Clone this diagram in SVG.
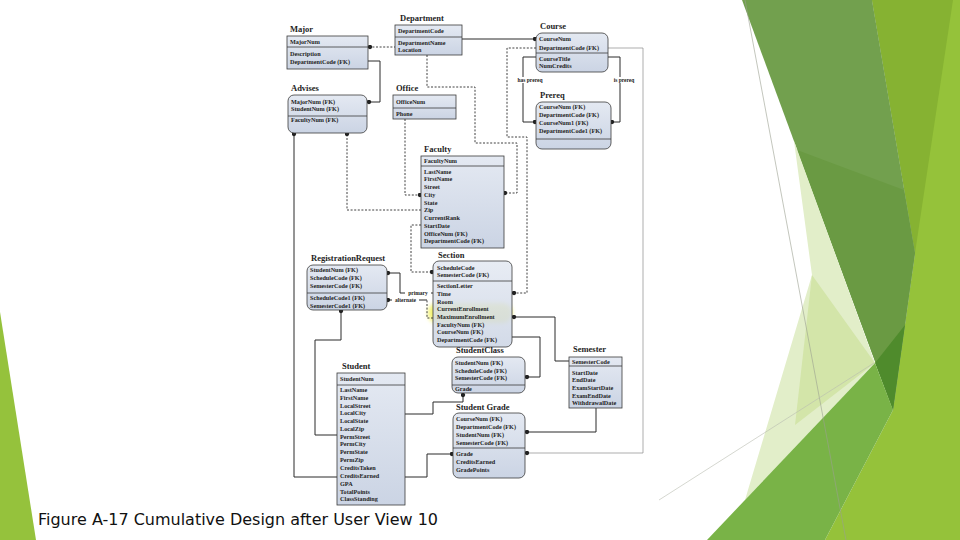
<svg xmlns="http://www.w3.org/2000/svg" width="960" height="540" viewBox="0 0 960 540">
<defs>
<linearGradient id="bg" x1="0" y1="0" x2="0" y2="1"><stop offset="0" stop-color="#e4e9f2"/><stop offset="1" stop-color="#cbd4e4"/></linearGradient>
<filter id="blur" x="-20%" y="-50%" width="140%" height="200%"><feGaussianBlur stdDeviation="2"/></filter>
<marker id="dot" viewBox="0 0 6 6" refX="3" refY="3" markerWidth="5" markerHeight="5" markerUnits="userSpaceOnUse"><circle cx="3" cy="3" r="2.6" fill="#222"/></marker>
<style>
.box{fill:url(#bg);stroke:#3a3a3a;stroke-width:0.8}
.dv{stroke:#3a3a3a;stroke-width:0.8}
.t{font-family:"Liberation Serif",serif;font-size:6.2px;font-weight:bold;fill:#1e1e1e}
.h{font-family:"Liberation Serif",serif;font-size:8.5px;font-weight:bold;fill:#1e1e1e}
.c{fill:none;stroke:#2a2a2a;stroke-width:1}
.d{fill:none;stroke:#2a2a2a;stroke-width:0.9;stroke-dasharray:2 1.6}
.g{fill:none;stroke:#8a8a8a;stroke-width:0.7}
.lbl{font-family:"Liberation Serif",serif;font-size:5.5px;font-weight:bold;fill:#222}
.lb{fill:#ffffff}
</style>
</defs>
<rect width="960" height="540" fill="#ffffff"/>
<g id="decoration">
<polygon points="872,0 960,0 960,540 825,540 893,410 915,253" fill="#95c23a"/>
<polygon points="872,0 953,0 915,253" fill="#86b232"/>
<polygon points="742,0 872,0 915,253 893,410" fill="#72a04e"/>
<polygon points="797,150 904,190 915,253 893,410" fill="#6a9a43"/>
<polygon points="875,363 905,325 893,410" fill="#4f8b2c"/>
<polygon points="794,141 875,363 745,500 812,275" fill="#e2eec9"/>
<polygon points="812,275 875,363 795,425" fill="#d3e5a9"/>
<polygon points="707,540 875,363 893,410 825,540" fill="#79b347"/>
<line x1="745" y1="0" x2="846" y2="540" stroke="#9aa090" stroke-width="0.6"/>
<line x1="659" y1="500" x2="874" y2="363" stroke="#b8bcb0" stroke-width="0.6"/>
<polygon points="0,312 36,540 0,540" fill="#95c23c"/>
</g>
<rect x="428" y="303" width="84" height="20" rx="9" fill="#f3f25c" opacity="0.85" filter="url(#blur)"/>
<g id="connectors">
<path class="d" d="M396,47 H370" marker-end="url(#dot)"/>
<path class="c" d="M368,61 H380 V102 H369" marker-end="url(#dot)"/>
<path class="c" d="M462,39 H535" marker-end="url(#dot)"/>
<path class="d" d="M427,55 V87 H475 V143 H517 V193 H505" marker-end="url(#dot)"/>
<path class="d" d="M536,48 H507 V137 H527 V293 H514" marker-end="url(#dot)"/>
<path class="c" d="M536,57 H523 V122 H535" marker-end="url(#dot)"/>
<path class="c" d="M608,57 H620 V122 H612" marker-end="url(#dot)"/>
<rect class="lb" x="513" y="77" width="34" height="6"/>
<text class="lbl" x="530" y="81.8" text-anchor="middle">has prereq</text>
<rect class="lb" x="611" y="77" width="26" height="6"/>
<text class="lbl" x="624" y="81.8" text-anchor="middle">is prereq</text>
<path class="g" d="M608,48 H643 V453 H527" marker-end="url(#dot)"/>
<path class="d" d="M405,119 V195 H420" marker-end="url(#dot)"/>
<path class="d" d="M421,210 H347 V134" marker-end="url(#dot)"/>
<path class="c" d="M337,477 H294 V134" marker-end="url(#dot)"/>
<path class="c" d="M337,435 H315 V340 H341 V311" marker-end="url(#dot)"/>
<path class="c" d="M433,293 H400 V273 H388" marker-end="url(#dot)"/>
<rect class="lb" x="405" y="290" width="26" height="6"/>
<text class="lbl" x="418" y="294.8" text-anchor="middle">primary</text>
<path class="d" d="M433,318 H427 V300" />
<path class="c" d="M427,300 H388" marker-end="url(#dot)"/>
<rect class="lb" x="392" y="297" width="27" height="6"/>
<text class="lbl" x="405.5" y="301.8" text-anchor="middle">alternate</text>
<path class="d" d="M421,225 H411 V272 H432" marker-end="url(#dot)"/>
<path class="c" d="M569,361 H555 V317 H514" marker-end="url(#dot)"/>
<path class="c" d="M512,337 H540 V377 H527" marker-end="url(#dot)"/>
<path class="c" d="M405,414 H433 V402 H463 V395" marker-end="url(#dot)"/>
<path class="c" d="M405,477 H427 V454 H452" marker-end="url(#dot)"/>
<path class="c" d="M596,408 V432 H527" marker-end="url(#dot)"/>
</g>
<g id="major">
<text class="h" x="290" y="32">Major</text>
<rect class="box" x="287" y="36" width="81" height="33"/>
<line class="dv" x1="287" y1="47" x2="368" y2="47"/>
<text class="t" x="290" y="43.5">MajorNum</text>
<text class="t" x="290" y="55.5">Description</text>
<text class="t" x="290" y="63.5">DepartmentCode (FK)</text>
</g>
<g id="department">
<text class="h" x="400" y="21">Department</text>
<rect class="box" x="395" y="25" width="67" height="30"/>
<line class="dv" x1="395" y1="37" x2="462" y2="37"/>
<text class="t" x="398" y="33">DepartmentCode</text>
<text class="t" x="398" y="45">DepartmentName</text>
<text class="t" x="398" y="52">Location</text>
</g>
<g id="course">
<text class="h" x="540" y="29">Course</text>
<rect class="box" x="536" y="33" width="72" height="39" rx="6"/>
<line class="dv" x1="536" y1="53" x2="608" y2="53"/>
<text class="t" x="539" y="41">CourseNum</text>
<text class="t" x="539" y="50">DepartmentCode (FK)</text>
<text class="t" x="539" y="61">CourseTitle</text>
<text class="t" x="539" y="68">NumCredits</text>
</g>
<g id="prereq">
<text class="h" x="540" y="98">Prereq</text>
<rect class="box" x="536" y="102" width="75" height="47" rx="6"/>
<line class="dv" x1="536" y1="139" x2="611" y2="139"/>
<text class="t" x="539" y="109">CourseNum (FK)</text>
<text class="t" x="539" y="117">DepartmentCode (FK)</text>
<text class="t" x="539" y="125">CourseNum1 (FK)</text>
<text class="t" x="539" y="133">DepartmentCode1 (FK)</text>
</g>
<g id="advises">
<text class="h" x="291" y="91">Advises</text>
<rect class="box" x="288" y="95" width="79" height="38" rx="6"/>
<line class="dv" x1="288" y1="116" x2="367" y2="116"/>
<text class="t" x="291" y="104">MajorNum (FK)</text>
<text class="t" x="291" y="111">StudentNum (FK)</text>
<text class="t" x="291" y="122">FacultyNum (FK)</text>
</g>
<g id="office">
<text class="h" x="396" y="91">Office</text>
<rect class="box" x="393" y="95" width="63" height="24"/>
<line class="dv" x1="393" y1="108" x2="456" y2="108"/>
<text class="t" x="396" y="104">OfficeNum</text>
<text class="t" x="396" y="116">Phone</text>
</g>
<g id="faculty">
<text class="h" x="424" y="152">Faculty</text>
<rect class="box" x="421" y="156" width="83" height="92"/>
<line class="dv" x1="421" y1="166" x2="504" y2="166"/>
<text class="t" x="424" y="162.5">FacultyNum</text>
<text class="t" x="424" y="174">LastName</text>
<text class="t" x="424" y="181">FirstName</text>
<text class="t" x="424" y="189">Street</text>
<text class="t" x="424" y="197">City</text>
<text class="t" x="424" y="205">State</text>
<text class="t" x="424" y="212">Zip</text>
<text class="t" x="424" y="219.5">CurrentRank</text>
<text class="t" x="424" y="228">StartDate</text>
<text class="t" x="424" y="235.5">OfficeNum (FK)</text>
<text class="t" x="424" y="243">DepartmentCode (FK)</text>
</g>
<g id="registrationrequest">
<text class="h" x="311" y="261">RegistrationRequest</text>
<rect class="box" x="307" y="265" width="80" height="45" rx="6"/>
<line class="dv" x1="307" y1="293" x2="387" y2="293"/>
<text class="t" x="310" y="272">StudentNum (FK)</text>
<text class="t" x="310" y="280">ScheduleCode (FK)</text>
<text class="t" x="310" y="288">SemesterCode (FK)</text>
<text class="t" x="310" y="300">ScheduleCode1 (FK)</text>
<text class="t" x="310" y="308">SemesterCode1 (FK)</text>
</g>
<g id="section">
<text class="h" x="438" y="258">Section</text>
<rect class="box" x="433" y="261" width="79" height="86" rx="6" fill-opacity="0.85"/>
<line class="dv" x1="433" y1="281" x2="512" y2="281"/>
<text class="t" x="437" y="270">ScheduleCode</text>
<text class="t" x="437" y="277">SemesterCode (FK)</text>
<text class="t" x="437" y="288">SectionLetter</text>
<text class="t" x="437" y="296">Time</text>
<text class="t" x="437" y="304">Room</text>
<text class="t" x="437" y="311">CurrentEnrollment</text>
<text class="t" x="437" y="319">MaximumEnrollment</text>
<text class="t" x="437" y="327">FacultyNum (FK)</text>
<text class="t" x="437" y="334">CourseNum (FK)</text>
<text class="t" x="437" y="342">DepartmentCode (FK)</text>
</g>
<g id="studentclass">
<text class="h" x="456" y="353">StudentClass</text>
<rect class="box" x="452" y="357" width="73" height="36" rx="6"/>
<line class="dv" x1="452" y1="385" x2="525" y2="385"/>
<text class="t" x="455" y="365">StudentNum (FK)</text>
<text class="t" x="455" y="373">ScheduleCode (FK)</text>
<text class="t" x="455" y="380">SemesterCode (FK)</text>
<text class="t" x="455" y="391">Grade</text>
</g>
<g id="semester">
<text class="h" x="573" y="352">Semester</text>
<rect class="box" x="569" y="357" width="53" height="51"/>
<line class="dv" x1="569" y1="366" x2="622" y2="366"/>
<text class="t" x="572" y="364">SemesterCode</text>
<text class="t" x="572" y="375">StartDate</text>
<text class="t" x="572" y="382">EndDate</text>
<text class="t" x="572" y="390">ExamStartDate</text>
<text class="t" x="572" y="398">ExamEndDate</text>
<text class="t" x="572" y="405">WithdrawalDate</text>
</g>
<g id="studentgrade">
<text class="h" x="456" y="410">Student Grade</text>
<rect class="box" x="453" y="413" width="72" height="65" rx="6"/>
<line class="dv" x1="453" y1="448" x2="525" y2="448"/>
<text class="t" x="456" y="421">CourseNum (FK)</text>
<text class="t" x="456" y="429">DepartmentCode (FK)</text>
<text class="t" x="456" y="437">StudentNum (FK)</text>
<text class="t" x="456" y="445">SemesterCode (FK)</text>
<text class="t" x="456" y="456">Grade</text>
<text class="t" x="456" y="464">CreditsEarned</text>
<text class="t" x="456" y="472">GradePoints</text>
</g>
<g id="student">
<text class="h" x="342" y="369">Student</text>
<rect class="box" x="337" y="373" width="68" height="132"/>
<line class="dv" x1="337" y1="385" x2="405" y2="385"/>
<text class="t" x="340" y="381">StudentNum</text>
<text class="t" x="340" y="392">LastName</text>
<text class="t" x="340" y="400">FirstName</text>
<text class="t" x="340" y="408">LocalStreet</text>
<text class="t" x="340" y="415">LocalCity</text>
<text class="t" x="340" y="423">LocalState</text>
<text class="t" x="340" y="431">LocalZip</text>
<text class="t" x="340" y="439">PermStreet</text>
<text class="t" x="340" y="446">PermCity</text>
<text class="t" x="340" y="454">PermState</text>
<text class="t" x="340" y="462">PermZip</text>
<text class="t" x="340" y="470">CreditsTaken</text>
<text class="t" x="340" y="478">CreditsEarned</text>
<text class="t" x="340" y="486">GPA</text>
<text class="t" x="340" y="494">TotalPoints</text>
<text class="t" x="340" y="501">ClassStanding</text>
</g>
<text x="38" y="525" font-family="DejaVu Sans, Verdana, sans-serif" font-size="15" fill="#111" textLength="400" lengthAdjust="spacingAndGlyphs">Figure A-17 Cumulative Design after User View 10</text>
</svg>
